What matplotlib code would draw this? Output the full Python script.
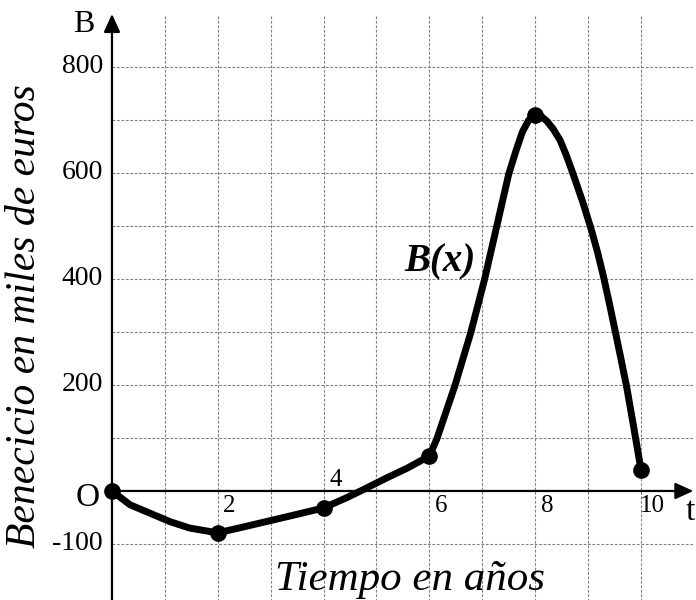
import numpy as np
import matplotlib
matplotlib.use("Agg")
import matplotlib.pyplot as plt

# curve: time in years, profit in thousands of euros
t_vals = [0, 0.34, 0.72, 1.1, 1.47, 2.0, 2.48, 2.99, 3.5, 4.0,
          4.45, 4.74, 5.2, 5.58, 6.0, 6.14, 6.3, 6.48, 6.78, 7.04,
          7.27, 7.5, 7.64, 7.76, 7.88, 8.0, 8.1, 8.22, 8.34, 8.47,
          8.59, 8.71, 8.9, 9.07, 9.18, 9.29, 9.4, 9.51, 9.62, 9.73,
          9.86, 10.0]
b_vals = [0, -26, -42, -58, -70, -79, -68, -56, -44, -32,
          -12, 2, 25, 43, 66, 98, 145, 198, 298, 398,
          498, 598, 643, 678, 700, 710, 708, 698, 683, 662,
          633, 600, 545, 490, 450, 405, 355, 303, 250, 196,
          122, 40]

# highlighted points
mark_t = [0, 2, 4, 6, 8, 10]
mark_b = [0, -79, -32, 66, 710, 40]

y_ticks = [800, 600, 400, 200, -100]
x_ticks = [2, 4, 6, 8, 10]
grid_x = list(range(1, 11))
grid_y = [-100, 100, 200, 300, 400, 500, 600, 700, 800]

serif = "Liberation Serif"

fig = plt.figure(figsize=(6.96, 6.0), dpi=100)
ax = fig.add_axes([0, 0, 1, 1])
ax.set_xlim(-2.117, 11.04)
ax.set_ylim(-205.7, 926.4)
ax.axis("off")

# grid
for gx in grid_x:
    ax.plot([gx, gx], [-210, 898], color="#808080", lw=0.8,
            ls=(0, (2.5, 1.5)), zorder=1)
for gy in grid_y:
    ax.plot([0, 10.98], [gy, gy], color="#808080", lw=0.8,
            ls=(0, (2.5, 1.5)), zorder=1)

# axes with arrows
arrow = dict(arrowstyle="-|>,head_length=1.1,head_width=0.5",
             color="black", lw=1.6, shrinkA=0, shrinkB=0)
ax.annotate("", xy=(0, 900), xytext=(0, -210), arrowprops=arrow, zorder=3)
ax.annotate("", xy=(10.99, 0), xytext=(0, 0), arrowprops=arrow, zorder=3)

# curve and points
ax.plot(t_vals, b_vals, color="black", lw=5, solid_capstyle="round",
        solid_joinstyle="round", zorder=4)
ax.plot(mark_t, mark_b, "o", color="black", ms=11, zorder=5)

# tick labels
for v in y_ticks:
    ax.text(-0.17, v, str(v), ha="right", va="center", fontsize=20,
            family=serif)
for v in x_ticks:
    if v == 4:
        ax.text(v + 0.23, 20, str(v), ha="center", va="center", fontsize=18,
                family=serif)
    else:
        ax.text(v + 0.22, -28, str(v), ha="center", va="center",
                fontsize=18, family=serif)

ax.text(-0.45, -13, "O", ha="center", va="center", fontsize=24, family=serif)
ax.text(-0.53, 881, "B", ha="center", va="center", fontsize=23, family=serif)
ax.text(10.84, -40, "t", ha="left", va="center", fontsize=24, family=serif)

ax.text(6.2, 432, "B(x)", ha="center", va="center", fontsize=28,
        family=serif, fontweight="bold", style="italic")

fig.text(0.036, 0.473, "Benecicio en miles de euros", rotation=90,
         ha="center", va="center", fontsize=30, family=serif, style="italic")
fig.text(0.589, 0.034, "Tiempo en años", ha="center", va="center",
         fontsize=31, family=serif, style="italic")

fig.savefig("out.png", dpi=100, facecolor="white")
